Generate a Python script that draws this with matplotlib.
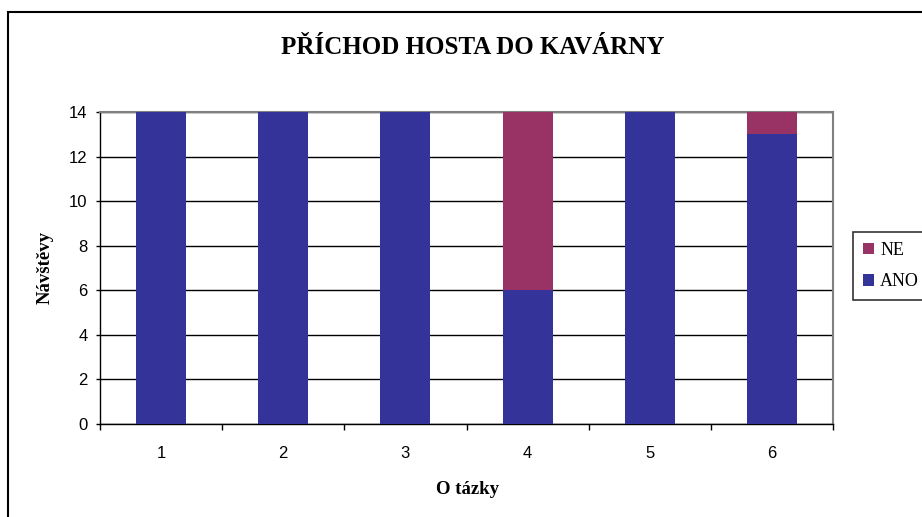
import matplotlib
matplotlib.use("Agg")
import matplotlib.pyplot as plt
from matplotlib.patches import Rectangle

categories = ["1", "2", "3", "4", "5", "6"]
ano = [14, 14, 14, 6, 14, 13]
ne = [0, 0, 0, 8, 0, 1]

fig = plt.figure(figsize=(9.22, 5.17), dpi=100)
ax = fig.add_axes([100 / 922, 1 - 424 / 517, 733 / 922, 312 / 517])

x = list(range(len(categories)))
ax.bar(x, ano, width=0.41, color="#333399", label="ANO", zorder=3)
ax.bar(x, ne, width=0.41, bottom=ano, color="#993366", label="NE", zorder=3)

ax.set_xlim(-0.5, len(categories) - 0.5)
ax.set_ylim(0, 14)
ax.set_yticks(range(0, 15, 2))
ax.set_xticks(x)
ax.set_xticklabels(categories)
ax.set_xticks([i - 0.5 for i in range(len(categories) + 1)], minor=True)
ax.tick_params(axis="x", which="major", length=0, pad=16)
ax.tick_params(axis="x", which="minor", length=4, direction="out", width=1)
ax.tick_params(axis="y", length=3, direction="out", width=1, pad=6)
for lab in ax.get_xticklabels() + ax.get_yticklabels():
    lab.set_family("Liberation Sans")
    lab.set_fontsize(12)

ax.yaxis.grid(True, color="black", linewidth=1, zorder=1)
ax.set_axisbelow(True)
for s in ("top", "right"):
    ax.spines[s].set_color("#808080")
    ax.spines[s].set_linewidth(1.5)
for s in ("left", "bottom"):
    ax.spines[s].set_color("black")
    ax.spines[s].set_linewidth(1)

fig.text(45 / 922, 1 - 268 / 517, "Návštěvy", family="Liberation Serif", fontweight="bold",
         fontsize=13.5, rotation=90, ha="center", va="center")
fig.text(467 / 922, 1 - 490 / 517, "O tázky", family="Liberation Serif", fontweight="bold",
         fontsize=13.5, ha="center", va="center")

fig.text(473 / 922, 1 - 47 / 517, "PŘÍCHOD HOSTA DO KAVÁRNY", family="Liberation Serif",
         fontweight="bold", fontsize=18, ha="center", va="center")

# outer chart border (runs off right and bottom edges)
fig.patches.append(Rectangle((8 / 922, -0.1), 1.2, 1.1 - 12 / 517, transform=fig.transFigure,
                             fill=False, edgecolor="black", linewidth=1.5))

handles, labels = ax.get_legend_handles_labels()
leg = fig.legend(handles[::-1], labels[::-1], loc="upper left",
                 bbox_to_anchor=(853 / 922, 1 - 232 / 517), frameon=True,
                 prop={"family": "Liberation Serif", "size": 13},
                 handlelength=0.6, handleheight=0.6, handletextpad=0.35,
                 labelspacing=0.8, borderpad=0.55, fancybox=False, borderaxespad=0)
leg.get_frame().set_edgecolor("black")
leg.get_frame().set_linewidth(1.2)

fig.savefig("out.png", dpi=100)
